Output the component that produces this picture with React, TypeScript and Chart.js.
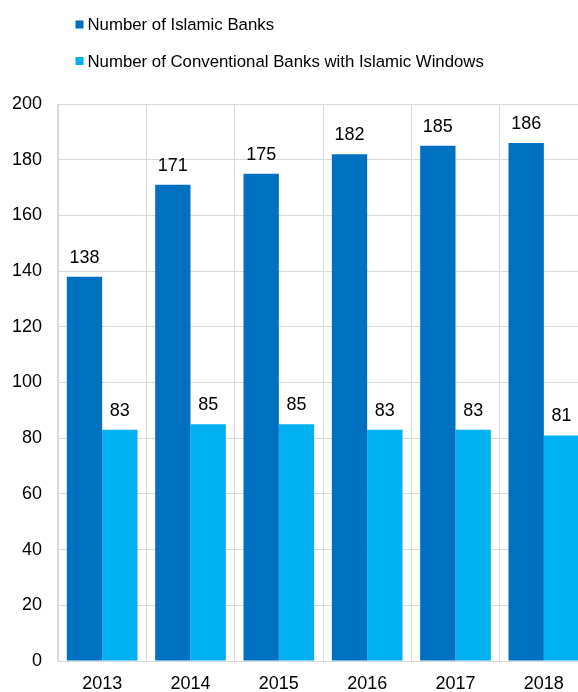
import React, { useEffect, useRef } from "react";
import { Chart, registerables } from "chart.js";

Chart.register(...registerables);

const years = ["2013", "2014", "2015", "2016", "2017", "2018"];
const islamicBanks = [138, 171, 175, 182, 185, 186];
const conventionalWithWindows = [83, 85, 85, 83, 83, 81];
const seriesNames = [
  "Number of Islamic Banks",
  "Number of Conventional Banks with Islamic Windows",
];
const seriesColors = ["#0070C0", "#00B0F0"];

const FONT = "'Liberation Sans', Arial, sans-serif";

const dataLabelPlugin = {
  id: "dataLabels",
  afterDatasetsDraw(chart: any) {
    const ctx = chart.ctx;
    ctx.save();
    ctx.font = `18px ${FONT}`;
    ctx.fillStyle = "#000000";
    ctx.textAlign = "center";
    ctx.textBaseline = "alphabetic";
    chart.data.datasets.forEach((ds: any, i: number) => {
      const meta = chart.getDatasetMeta(i);
      meta.data.forEach((bar: any, j: number) => {
        ctx.fillText(String(ds.data[j]), bar.x, bar.y - 14);
      });
    });
    ctx.restore();
  },
};

const legendPlugin = {
  id: "customLegend",
  afterDraw(chart: any) {
    const ctx = chart.ctx;
    ctx.save();
    ctx.font = `16.8px ${FONT}`;
    ctx.textAlign = "left";
    ctx.textBaseline = "alphabetic";
    const rows = [30, 66.5];
    chart.data.datasets.forEach((ds: any, i: number) => {
      const base = rows[i];
      ctx.fillStyle = ds.backgroundColor;
      ctx.fillRect(75.5, base - 9.5, 8, 8);
      ctx.fillStyle = "#000000";
      ctx.fillText(ds.label, 87.5, base);
    });
    ctx.restore();
  },
};

export default function App() {
  const canvasRef = useRef<HTMLCanvasElement | null>(null);

  useEffect(() => {
    if (!canvasRef.current) return;
    const chart = new Chart(canvasRef.current, {
      type: "bar",
      data: {
        labels: years,
        datasets: [
          {
            label: seriesNames[0],
            data: islamicBanks,
            backgroundColor: seriesColors[0],
            borderWidth: 0,
          },
          {
            label: seriesNames[1],
            data: conventionalWithWindows,
            backgroundColor: seriesColors[1],
            borderWidth: 0,
          },
        ],
      },
      options: {
        responsive: false,
        animation: false,
        devicePixelRatio: 1,
        layout: { padding: { top: 104, left: 0, right: 2, bottom: 0 } },
        plugins: {
          legend: { display: false },
          tooltip: { enabled: false },
        },
        datasets: {
          bar: { categoryPercentage: 0.8, barPercentage: 1 },
        },
        scales: {
          x: {
            grid: { color: "#D9D9D9", drawTicks: false, offset: true },
            border: { color: "#D9D9D9" },
            ticks: {
              color: "#000000",
              font: { family: FONT, size: 18 },
              padding: 12,
            },
            afterFit: (scale: any) => {
              scale.height = 31;
            },
          },
          y: {
            min: 0,
            max: 200,
            grid: { color: "#D9D9D9", drawTicks: false },
            border: { color: "#D9D9D9" },
            ticks: {
              stepSize: 20,
              color: "#000000",
              font: { family: FONT, size: 18 },
              padding: 16,
            },
            afterFit: (scale: any) => {
              scale.width = 58;
            },
          },
        },
      } as any,
      plugins: [dataLabelPlugin, legendPlugin],
    });
    return () => chart.destroy();
  }, []);

  return (
    <div
      style={{
        position: "absolute",
        left: 0,
        top: 0,
        width: 578,
        height: 692,
        overflow: "hidden",
        background: "#ffffff",
      }}
    >
      <canvas
        ref={canvasRef}
        width={590}
        height={692}
        style={{ width: 590, height: 692, display: "block" }}
      />
    </div>
  );
}
